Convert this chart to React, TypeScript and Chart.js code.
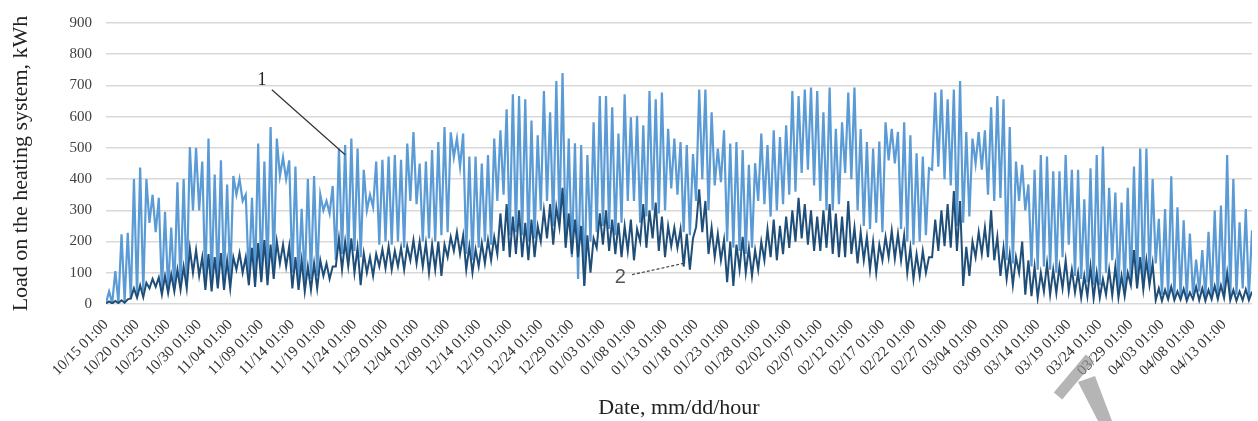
import React, { useEffect, useRef } from "react";
import { Chart, registerables } from "chart.js";

Chart.register(...registerables);

// Tick labels every 5 days (x axis in days from 10/15 01:00)
const tickLabels = [
  "10/15 01:00", "10/20 01:00", "10/25 01:00", "10/30 01:00", "11/04 01:00", "11/09 01:00",
  "11/14 01:00", "11/19 01:00", "11/24 01:00", "11/29 01:00", "12/04 01:00", "12/09 01:00",
  "12/14 01:00", "12/19 01:00", "12/24 01:00", "12/29 01:00", "01/03 01:00", "01/08 01:00",
  "01/13 01:00", "01/18 01:00", "01/23 01:00", "01/28 01:00", "02/02 01:00", "02/07 01:00",
  "02/12 01:00", "02/17 01:00", "02/22 01:00", "02/27 01:00", "03/04 01:00", "03/09 01:00",
  "03/14 01:00", "03/19 01:00", "03/24 01:00", "03/29 01:00", "04/03 01:00", "04/08 01:00",
  "04/13 01:00",
];

// Series 1 (light): daily night value (01:00) and daytime value (13:00), kWh
const load1Night = [
  3, 3, 5, 8, 15, 25, 40, 260, 230, 40, 45, 50, 55, 60, 300, 300, 60, 70, 60, 80,
  80, 350, 330, 80, 90, 80, 100, 110, 410, 400, 100, 80, 70, 80, 90, 300, 290, 140, 160, 150,
  170, 150, 300, 310, 190, 200, 190, 200, 180, 330, 320, 200, 210, 200, 220, 230, 470, 440, 160, 140,
  180, 200, 190, 330, 350, 220, 230, 220, 200, 210, 300, 330, 250, 260, 200, 150, 80, 60, 200, 230,
  250, 240, 220, 260, 330, 330, 260, 280, 300, 290, 300, 370, 350, 230, 220, 330, 400, 300, 380, 390,
  200, 180, 170, 160, 180, 330, 320, 280, 300, 320, 350, 360, 420, 430, 380, 330, 300, 300, 320, 420,
  400, 300, 250, 240, 260, 230, 460, 450, 240, 200, 190, 200, 220, 430, 440, 400, 380, 250, 260, 280,
  450, 430, 350, 330, 340, 140, 130, 330, 300, 120, 110, 120, 110, 100, 150, 190, 90, 80, 70, 60,
  60, 100, 140, 50, 50, 60, 60, 50, 80, 130, 30, 25, 25, 20, 20, 30, 40, 20, 20, 20,
  25, 20, 30, 50, 20,
];
const load1Day = [
  40, 105, 223, 228, 400, 437, 400, 350, 340, 295, 245, 390, 400, 503, 500, 456, 530, 415, 460, 383,
  410, 400, 350, 340, 514, 456, 567, 530, 470, 460, 440, 305, 400, 410, 350, 330, 378, 498, 509, 530,
  498, 430, 350, 456, 462, 472, 477, 462, 514, 551, 450, 456, 493, 519, 567, 550, 530, 546, 472, 472,
  450, 477, 530, 556, 624, 672, 666, 656, 588, 540, 682, 614, 714, 740, 530, 515, 509, 477, 582, 666,
  666, 630, 546, 672, 598, 603, 572, 682, 656, 677, 561, 530, 519, 509, 480, 687, 687, 614, 498, 556,
  514, 519, 493, 446, 451, 546, 509, 556, 535, 572, 682, 666, 687, 693, 682, 614, 693, 561, 582, 677,
  693, 560, 519, 498, 520, 582, 561, 551, 582, 540, 483, 472, 435, 677, 687, 656, 687, 714, 551, 530,
  551, 556, 630, 666, 656, 567, 456, 446, 383, 430, 477, 472, 425, 425, 477, 430, 430, 335, 435, 477,
  504, 372, 357, 325, 372, 440, 498, 498, 400, 273, 304, 409, 310, 268, 226, 142, 173, 231, 299, 315,
  477, 400, 262, 304, 236,
];

// Series 2 (dark): daily night value (01:00) and daytime value (13:00), kWh
const load2Night = [
  2, 2, 3, 4, 18, 20, 22, 50, 55, 30, 35, 40, 45, 50, 100, 90, 45, 40, 50, 45,
  50, 110, 100, 60, 55, 70, 60, 80, 130, 120, 50, 45, 40, 45, 50, 90, 80, 120, 110, 120,
  100, 60, 100, 90, 120, 115, 110, 120, 110, 140, 130, 120, 100, 110, 90, 150, 170, 160, 110, 100,
  120, 130, 140, 160, 170, 150, 160, 150, 140, 150, 200, 210, 190, 246, 180, 160, 150, 58, 100, 180,
  190, 170, 160, 150, 170, 140, 200, 180, 210, 170, 150, 185, 180, 120, 110, 246, 230, 160, 150, 140,
  70, 58, 110, 100, 90, 110, 140, 150, 140, 160, 180, 200, 210, 190, 170, 170, 180, 160, 150, 150,
  160, 130, 140, 110, 100, 140, 150, 145, 140, 100, 80, 90, 100, 150, 170, 185, 180, 170, 58, 90,
  150, 160, 150, 140, 90, 80, 60, 100, 30, 25, 20, 40, 30, 35, 50, 40, 37, 20, 25, 18,
  20, 30, 28, 20, 25, 60, 50, 47, 60, 12, 10, 15, 12, 14, 10, 15, 12, 10, 15, 15,
  20, 12, 10, 12, 12,
];
const load2Day = [
  8, 10, 12, 15, 50, 60, 68, 80, 85, 90, 95, 110, 120, 178, 173, 150, 160, 150, 163, 140,
  150, 163, 150, 180, 195, 205, 190, 200, 190, 185, 150, 140, 120, 130, 140, 130, 120, 210, 200, 210,
  180, 162, 150, 160, 175, 185, 170, 180, 185, 205, 200, 195, 190, 200, 190, 215, 230, 220, 185, 175,
  195, 205, 215, 290, 320, 280, 300, 260, 270, 250, 300, 320, 310, 372, 290, 270, 250, 220, 210, 290,
  300, 270, 260, 250, 270, 240, 320, 300, 325, 280, 250, 245, 240, 225, 210, 367, 330, 245, 225, 205,
  200, 190, 215, 180, 173, 200, 240, 270, 250, 280, 300, 340, 320, 300, 280, 300, 320, 290, 280, 330,
  245, 230, 215, 200, 190, 215, 235, 225, 220, 180, 160, 170, 150, 270, 300, 320, 362, 330, 183, 200,
  230, 245, 300, 215, 180, 160, 150, 200, 140, 120, 100, 130, 110, 120, 140, 110, 100, 90, 120, 100,
  80, 110, 120, 90, 100, 173, 150, 140, 130, 50, 45, 55, 40, 48, 37, 55, 50, 45, 58, 60,
  100, 45, 40, 47, 40,
];

const SERIF = "'Liberation Serif', 'Times New Roman', serif";

function toPoints(night: number[], day: number[]) {
  const pts: { x: number; y: number }[] = [];
  for (let d = 0; d < night.length; d++) {
    pts.push({ x: d, y: night[d] });
    pts.push({ x: d + 0.5, y: day[d] });
  }
  return pts;
}

const annotationPlugin = {
  id: "annots",
  afterDatasetsDraw(chart: any) {
    const { ctx, scales } = chart;
    const x = scales.x;
    const y = scales.y;
    const px = (d: number) => x.getPixelForValue(d);
    const py = (v: number) => y.getPixelForValue(v);
    ctx.save();
    // label 1 with leader line
    ctx.fillStyle = "#222";
    ctx.font = `18px ${SERIF}`;
    ctx.textAlign = "center";
    ctx.textBaseline = "middle";
    ctx.fillText("1", px(25.1), py(718));
    ctx.strokeStyle = "#333";
    ctx.lineWidth = 1.2;
    ctx.beginPath();
    ctx.moveTo(px(26.7), py(686));
    ctx.lineTo(px(38.5), py(478));
    ctx.stroke();
    // label 2 with dashed leader
    ctx.fillStyle = "#555";
    ctx.font = `20px 'Liberation Sans', Arial, sans-serif`;
    ctx.fillText("2", px(82.8), py(85));
    ctx.strokeStyle = "#444";
    ctx.setLineDash([3, 2]);
    ctx.lineWidth = 1.2;
    ctx.beginPath();
    ctx.moveTo(px(84.7), py(94));
    ctx.lineTo(px(93.4), py(132));
    ctx.stroke();
    ctx.restore();
  },
  afterDraw(chart: any) {
    const ctx = chart.ctx;
    ctx.save();
    ctx.fillStyle = "rgba(150,150,150,0.7)";
    ctx.strokeStyle = "rgba(150,150,150,0.7)";
    ctx.lineWidth = 11;
    ctx.beginPath();
    ctx.moveTo(1058, 396);
    ctx.lineTo(1090, 358);
    ctx.stroke();
    ctx.beginPath();
    ctx.moveTo(1078, 382);
    ctx.lineTo(1095, 376);
    ctx.lineTo(1112, 421);
    ctx.lineTo(1098, 421);
    ctx.closePath();
    ctx.fill();
    ctx.restore();
  },
};

export default function App() {
  const ref = useRef<HTMLCanvasElement | null>(null);

  useEffect(() => {
    document.body.style.margin = "0";
    const canvas = ref.current;
    if (!canvas) return;
    const chart = new Chart(canvas, {
      type: "line",
      data: {
        datasets: [
          {
            label: "2",
            data: toPoints(load2Night, load2Day),
            borderColor: "#1F4E79",
            borderWidth: 2,
            pointRadius: 0,
            tension: 0,
            order: 0,
          },
          {
            label: "1",
            data: toPoints(load1Night, load1Day),
            borderColor: "#5B9BD5",
            borderWidth: 2.2,
            pointRadius: 0,
            tension: 0,
            order: 1,
          },
        ],
      },
      options: {
        animation: false,
        responsive: false,
        devicePixelRatio: 1,
        layout: { padding: { top: 18, right: 6, left: 0, bottom: 0 } },
        plugins: { legend: { display: false }, tooltip: { enabled: false } },
        scales: {
          x: {
            type: "linear",
            min: 0,
            max: 184.5,
            grid: { display: false },
            border: { display: false },
            afterBuildTicks: (scale: any) => {
              scale.ticks = tickLabels.map((_, i) => ({ value: i * 5 }));
            },
            afterFit: (scale: any) => {
              scale.height = 117;
            },
            ticks: {
              autoSkip: false,
              minRotation: 45,
              maxRotation: 45,
              padding: 4,
              color: "#333",
              font: { family: SERIF, size: 15 },
              callback: (v: any) => tickLabels[Math.round(Number(v) / 5)] ?? "",
            },
            title: {
              display: true,
              text: "Date, mm/dd/hour",
              color: "#222",
              font: { family: SERIF, size: 22 },
              padding: { top: 0, bottom: 0 },
            },
          },
          y: {
            min: 0,
            max: 900,
            grid: { color: "#d9d9d9", lineWidth: 1.5, drawTicks: false },
            border: { display: false },
            afterFit: (scale: any) => {
              scale.width = 106;
            },
            ticks: {
              stepSize: 100,
              padding: 14,
              color: "#404040",
              font: { family: SERIF, size: 15 },
            },
            title: {
              display: true,
              text: "Load on the heating system, kWh",
              color: "#222",
              font: { family: SERIF, size: 22 },
              padding: { top: 8, bottom: 0 },
            },
          },
        },
      },
      plugins: [annotationPlugin],
    });
    return () => chart.destroy();
  }, []);

  return (
    <div style={{ width: 1258, height: 421 }}>
      <canvas ref={ref} width={1258} height={421} style={{ display: "block" }} />
    </div>
  );
}
